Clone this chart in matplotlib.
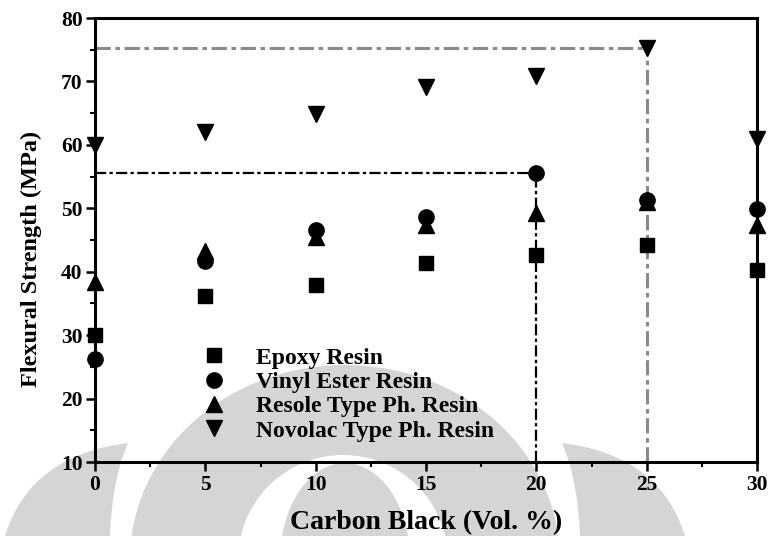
import matplotlib
matplotlib.use("Agg")
import matplotlib.pyplot as plt
from matplotlib.patches import Ellipse, PathPatch
from matplotlib.path import Path
from matplotlib.transforms import Affine2D
from matplotlib.ticker import MultipleLocator

# ---------------- data ----------------
carbon_black = [0, 5, 10, 15, 20, 25, 30]
epoxy = [30.0, 36.2, 37.9, 41.4, 42.6, 44.2, 40.2]
vinyl_ester = [26.2, 41.7, 46.5, 48.6, 55.5, 51.3, 49.9]
resole = [38.3, 43.2, 45.4, 47.3, 49.2, 51.0, 47.3]
novolac = [60.0, 62.0, 64.9, 69.1, 70.9, 75.2, 61.0]

series_names = ["Epoxy Resin", "Vinyl Ester Resin",
                "Resole Type Ph. Resin", "Novolac Type Ph. Resin"]
x_ticks = [0, 5, 10, 15, 20, 25, 30]
y_ticks = [10, 20, 30, 40, 50, 60, 70, 80]

plt.rcParams['font.family'] = ['Liberation Serif', 'DejaVu Serif']
plt.rcParams['font.weight'] = 'bold'

W, H = 771, 536
fig = plt.figure(figsize=(W / 100, H / 100), dpi=100)
fig.patch.set_facecolor('white')

# ---------------- watermark (decorative background) ----------------
px = Affine2D().scale(1 / W, -1 / H).translate(0, 1) + fig.transFigure
wm = '#d5d5d5'
for (cx, cy, a, b, col) in [(345, 560, 215, 195, wm),
                            (343, 560, 105, 105, 'white'),
                            (345, 560, 65, 97, wm)]:
    e = Ellipse((cx, cy), 2 * a, 2 * b, transform=px, facecolor=col,
                edgecolor='none', zorder=-10)
    fig.add_artist(e)

def leaf(mirror=None):
    pts = [(5, 536), (30, 455), (128, 443), (112, 480), (110, 536), (5, 536)]
    if mirror is not None:
        pts = [(mirror - x, y) for x, y in pts]
    codes = [Path.MOVETO, Path.CURVE3, Path.CURVE3, Path.CURVE3, Path.CURVE3,
             Path.CLOSEPOLY]
    return PathPatch(Path(pts, codes), transform=px, facecolor=wm,
                     edgecolor='none', zorder=-10)

fig.add_artist(leaf())
fig.add_artist(leaf(690))

# ---------------- axes ----------------
left, right, top, bottom = 95, 757, 18, 462
ax = fig.add_axes([left / W, 1 - bottom / H, (right - left) / W, (bottom - top) / H])
ax.patch.set_alpha(0)

# reference lines at maxima
i_nov = novolac.index(max(novolac))
i_vin = vinyl_ester.index(max(vinyl_ester))
dd = (0, (5, 1.5, 1.5, 1.5))
ax.plot([0, carbon_black[i_nov]], [max(novolac)] * 2, color='#8a8a8a',
        lw=2.2, ls=dd, zorder=2)
ax.plot([carbon_black[i_nov]] * 2, [10, max(novolac)], color='#8a8a8a',
        lw=2.2, ls=dd, zorder=2)
ax.plot([0, carbon_black[i_vin]], [max(vinyl_ester)] * 2, color='black',
        lw=1.6, ls=dd, zorder=2)
ax.plot([carbon_black[i_vin]] * 2, [10, max(vinyl_ester)], color='black',
        lw=1.6, ls=dd, zorder=2)

ax.plot(carbon_black, epoxy, 's', color='black', ms=10, ls='none',
        label=series_names[0], clip_on=False, zorder=3)
ax.plot(carbon_black, vinyl_ester, 'o', color='black', ms=11, ls='none',
        label=series_names[1], clip_on=False, zorder=3)
ax.plot(carbon_black, resole, '^', color='black', ms=12, ls='none',
        label=series_names[2], clip_on=False, zorder=3)
ax.plot(carbon_black, novolac, 'v', color='black', ms=12, ls='none',
        label=series_names[3], clip_on=False, zorder=3)

ax.set_xlim(0, 30)
ax.set_ylim(10, 80)
ax.set_xticks(x_ticks)
ax.set_yticks(y_ticks)
ax.xaxis.set_minor_locator(MultipleLocator(2.5))
ax.yaxis.set_minor_locator(MultipleLocator(5))

for s in ax.spines.values():
    s.set_linewidth(2.2)
ax.tick_params(which='major', direction='out', length=6.5, width=1.8,
               labelsize=15.5, pad=2.5)
ax.tick_params(which='minor', direction='out', length=3.5, width=1.5)
ax.tick_params(top=False, right=False, which='both')
for lab in ax.get_xticklabels() + ax.get_yticklabels():
    lab.set_fontweight('bold')

ax.set_xlabel('Carbon Black (Vol. %)', fontsize=20, fontweight='bold')
ax.set_ylabel('Flexural Strength (MPa)', fontsize=17.5, fontweight='bold')
ax.xaxis.set_label_coords(0.5, -(510 - bottom) / (bottom - top))
ax.yaxis.set_label_coords(-(left - 42) / (right - left), (bottom - 259) / (bottom - top))

leg = ax.legend(loc='upper left',
                bbox_to_anchor=((202 - left) / (right - left), (bottom - 347) / (bottom - top)),
                frameon=False, handlelength=1.0, handletextpad=1.3,
                labelspacing=0.12, borderpad=0, borderaxespad=0,
                prop={'weight': 'bold', 'size': 17})

fig.savefig('out.png', dpi=100)
